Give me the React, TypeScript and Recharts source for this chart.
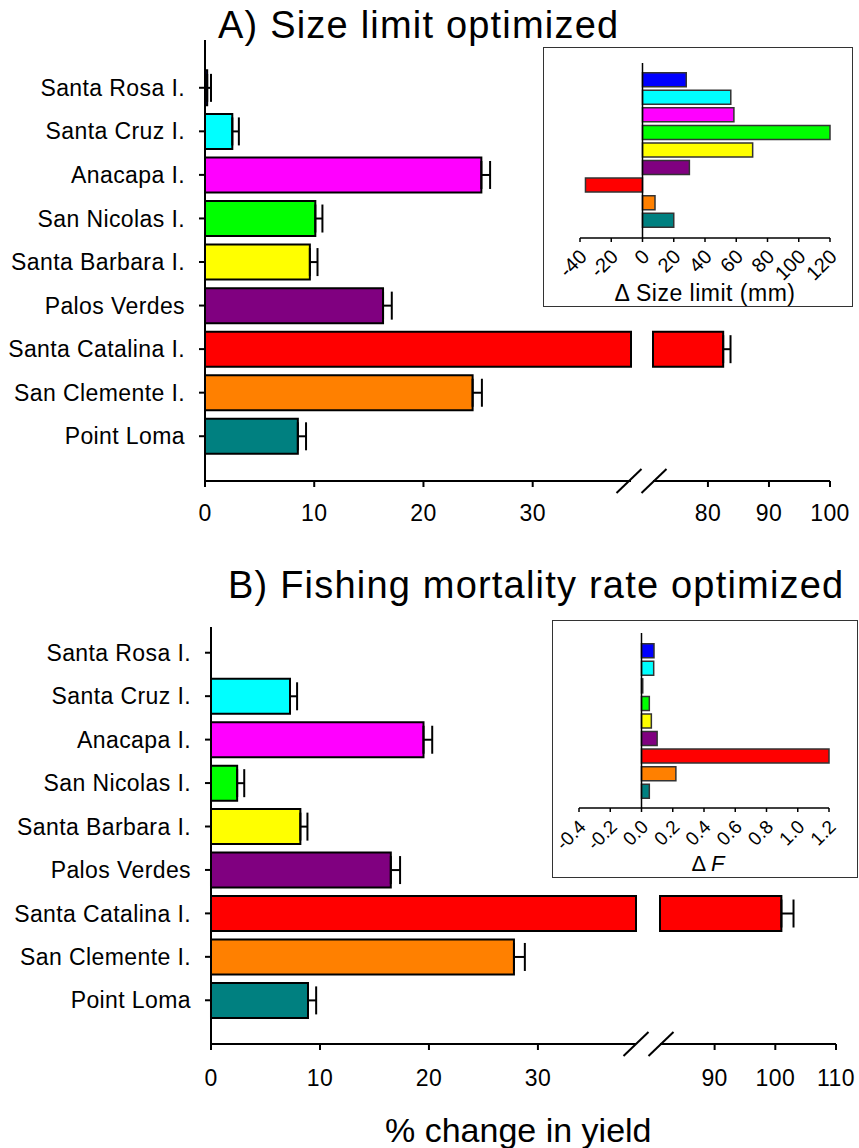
import React from "react";
import { BarChart, Bar, XAxis, YAxis, ErrorBar, ReferenceLine, Cell } from "recharts";

// sites, top to bottom
const sites = [
  "Santa Rosa I.",
  "Santa Cruz I.",
  "Anacapa I.",
  "San Nicolas I.",
  "Santa Barbara I.",
  "Palos Verdes",
  "Santa Catalina I.",
  "San Clemente I.",
  "Point Loma",
];
const siteColors = ["#0000FF", "#00FFFF", "#FF00FF", "#00FF00", "#FFFF00", "#800080", "#FF0000", "#FF8000", "#008080"];

// A) % change in yield when size limit is optimized (+ SE)
const yieldSize = [0.2, 2.5, 25.3, 10.1, 9.6, 16.3, 82.5, 24.5, 8.5];
const yieldSizeErr = [0.35, 0.6, 0.8, 0.65, 0.7, 0.8, 1.2, 0.85, 0.75];
// B) % change in yield when fishing mortality is optimized (+ SE)
const yieldF = [0, 7.25, 19.5, 2.4, 8.2, 16.5, 101, 27.8, 8.9];
const yieldFErr = [0.6, 0.65, 0.8, 0.65, 0.65, 0.85, 2.0, 1.0, 0.75];

// insets
const deltaSize = [28, 56.5, 58.5, 120, 70.5, 30, -36.5, 8, 20];
const deltaF = [0.08, 0.078, 0.008, 0.05, 0.063, 0.1, 1.2, 0.22, 0.05];

const ticksLeft = [0, 10, 20, 30];
const ticksRightA = [80, 90, 100];
const ticksRightB = [90, 100, 110];
const ticksDeltaSize = [-40, -20, 0, 20, 40, 60, 80, 100, 120];
const ticksDeltaF = [-0.4, -0.2, 0, 0.2, 0.4, 0.6, 0.8, 1.0, 1.2];

// broken x axis: left segment [0, LEFT_MAX], right segment [rightMin, rightMax]
const LEFT_MAX = 39;
const RIGHT_A: [number, number] = [71, 100];
const RIGHT_B: [number, number] = [81, 110];

const FONT = "'Liberation Sans', Arial, Helvetica, sans-serif";

function buildRows(values: number[], errs: number[], rightMin: number) {
  return sites.map((site, i) => {
    const v = values[i];
    const broken = v > LEFT_MAX;
    return {
      site,
      color: siteColors[i],
      left: broken ? LEFT_MAX : v,
      leftErr: broken ? null : [0, errs[i]],
      right: broken ? [rightMin, v] : null,
      rightErr: broken ? [0, errs[i]] : null,
    };
  });
}

const rowsA = buildRows(yieldSize, yieldSizeErr, RIGHT_A[0]);
const rowsB = buildRows(yieldF, yieldFErr, RIGHT_B[0]);
const insetRowsA = sites.map((site, i) => ({ site, color: siteColors[i], delta: deltaSize[i] }));
const insetRowsB = sites.map((site, i) => ({ site, color: siteColors[i], delta: deltaF[i] }));

const axisStroke = { stroke: "#000", strokeWidth: 2 };
const tickText = { fill: "#000", fontSize: 23, letterSpacing: 0.4 };

interface PanelProps {
  rows: any[];
  top: number; // div top
  plotTop: number; // relative
  axisY: number; // relative
  axisX: number; // y axis position
  leftEnd: number;
  rightStart: number;
  rightEnd: number;
  rightDomain: [number, number];
  rightTicks: number[];
  pad: { top: number; bottom: number };
  tickMargin: number;
}

function BrokenPanel(p: PanelProps) {
  const h = p.axisY + 50;
  const rightDiv = 600;
  return (
    <>
      <div style={{ position: "absolute", left: 0, top: p.top }}>
        <BarChart
          width={p.leftEnd + 10}
          height={h}
          layout="vertical"
          data={p.rows}
          margin={{ top: p.plotTop, right: 10, bottom: 0, left: 0 }}
        >
          <XAxis
            type="number"
            domain={[0, LEFT_MAX]}
            ticks={ticksLeft}
            interval={0}
            height={50}
            tickSize={6}
            tickMargin={p.tickMargin}
            axisLine={axisStroke}
            tickLine={axisStroke}
            tick={tickText}
          />
          <YAxis
            type="category"
            dataKey="site"
            width={p.axisX}
            padding={p.pad}
            interval={0}
            tickSize={6}
            tickMargin={14}
            axisLine={axisStroke}
            tickLine={axisStroke}
            tick={tickText}
          />
          <Bar dataKey="left" stroke="#000" strokeWidth={2} isAnimationActive={false}>
            {p.rows.map((r) => (
              <Cell key={r.site} fill={r.color} />
            ))}
            <ErrorBar dataKey="leftErr" direction="x" width={14} stroke="#000" strokeWidth={2} />
          </Bar>
        </BarChart>
      </div>
      <div style={{ position: "absolute", left: rightDiv, top: p.top }}>
        <BarChart
          width={859 - rightDiv}
          height={h}
          layout="vertical"
          data={p.rows}
          margin={{ top: p.plotTop, right: 859 - p.rightEnd, bottom: 0, left: p.rightStart - rightDiv }}
        >
          <XAxis
            type="number"
            domain={p.rightDomain}
            ticks={p.rightTicks}
            interval={0}
            height={50}
            tickSize={6}
            tickMargin={p.tickMargin}
            axisLine={axisStroke}
            tickLine={axisStroke}
            tick={tickText}
          />
          <YAxis type="category" dataKey="site" hide padding={p.pad} />
          <Bar dataKey="right" stroke="#000" strokeWidth={2} isAnimationActive={false}>
            {p.rows.map((r) => (
              <Cell key={r.site} fill={r.color} />
            ))}
            <ErrorBar dataKey="rightErr" direction="x" width={14} stroke="#000" strokeWidth={2} />
          </Bar>
        </BarChart>
      </div>
    </>
  );
}

function SlantTick(props: any) {
  const { x, y, payload, decimals, fontSize } = props;
  const label = decimals ? Number(payload.value).toFixed(1) : String(payload.value);
  const ax = x + 8;
  const ay = y + 14;
  return (
    <text
      x={ax}
      y={ay}
      transform={`rotate(-45 ${ax} ${ay})`}
      textAnchor="end"
      fontSize={fontSize}
      fill="#000"
    >
      {label}
    </text>
  );
}

interface InsetProps {
  rows: any[];
  left: number;
  top: number;
  width: number;
  height: number;
  margin: { top: number; right: number; left: number };
  axisHeight: number;
  domain: [number, number];
  ticks: number[];
  decimals: boolean;
  tickFont: number;
  pad: { top: number; bottom: number };
}

function Inset(p: InsetProps) {
  return (
    <div
      style={{
        position: "absolute",
        left: p.left,
        top: p.top,
        width: p.width,
        height: p.height,
        background: "#fff",
        outline: "1.5px solid #333",
        outlineOffset: -1.5,
      }}
    >
      <BarChart
        width={p.width}
        height={p.height}
        layout="vertical"
        data={p.rows}
        margin={{ ...p.margin, bottom: 0 }}
        style={{ overflow: "visible" }}
      >
        <XAxis
          type="number"
          domain={p.domain}
          ticks={p.ticks}
          interval={0}
          height={p.axisHeight}
          tickSize={4}
          tickMargin={2}
          axisLine={{ stroke: "#000", strokeWidth: 1.5 }}
          tickLine={{ stroke: "#000", strokeWidth: 1.5 }}
          tick={<SlantTick decimals={p.decimals} fontSize={p.tickFont} />}
        />
        <YAxis type="category" dataKey="site" hide padding={p.pad} />
        <Bar dataKey="delta" stroke="#333" strokeWidth={1.5} isAnimationActive={false}>
          {p.rows.map((r) => (
            <Cell key={r.site} fill={r.color} />
          ))}
        </Bar>
        <ReferenceLine x={0} stroke="#000" strokeWidth={1.5} />
      </BarChart>
    </div>
  );
}

function Slash({ cx, cy }: { cx: number; cy: number }) {
  return <line x1={cx - 12.5} y1={cy + 12} x2={cx + 12.5} y2={cy - 12} stroke="#000" strokeWidth={2} />;
}

export default function App() {
  const A = { top: 0, plotTop: 40, axisY: 481, axisX: 205, leftEnd: 631, rightStart: 653, rightEnd: 830 };
  const B = { top: 560, plotTop: 67, axisY: 484, axisX: 211, leftEnd: 636, rightStart: 660, rightEnd: 836 };
  return (
    <div style={{ position: "relative", width: 859, height: 1148, background: "#fff", fontFamily: FONT, overflow: "hidden" }}>
      <style>{"body{margin:0}"}</style>

      <BrokenPanel
        rows={rowsA}
        {...A}
        rightDomain={RIGHT_A}
        rightTicks={ticksRightA}
        pad={{ top: 26, bottom: 23 }}
        tickMargin={18}
      />
      <BrokenPanel
        rows={rowsB}
        {...B}
        rightDomain={RIGHT_B}
        rightTicks={ticksRightB}
        pad={{ top: 4, bottom: 22 }}
        tickMargin={20}
      />

      <Inset
        rows={insetRowsA}
        left={543}
        top={47}
        width={310}
        height={260}
        margin={{ top: 16, right: 23, left: 37 }}
        axisHeight={69}
        domain={[-40, 120]}
        ticks={ticksDeltaSize}
        decimals={false}
        tickFont={20}
        pad={{ top: 8, bottom: 9 }}
      />
      <Inset
        rows={insetRowsB}
        left={552}
        top={620}
        width={306}
        height={258}
        margin={{ top: 13, right: 29, left: 27 }}
        axisHeight={70}
        domain={[-0.4, 1.2]}
        ticks={ticksDeltaF}
        decimals={true}
        tickFont={19}
        pad={{ top: 9, bottom: 8 }}
      />

      <svg width={859} height={1148} style={{ position: "absolute", left: 0, top: 0, pointerEvents: "none" }}>
        <text x={218} y={38} fontSize={38} letterSpacing={1.2} fill="#000">
          A) Size limit optimized
        </text>
        <text x={228} y={598} fontSize={38} letterSpacing={1.2} fill="#000">
          B) Fishing mortality rate optimized
        </text>
        <text x={385} y={1142} fontSize={34} fill="#000">
          % change in yield
        </text>
        <text x={705} y={301} fontSize={23} letterSpacing={0.5} textAnchor="middle" fill="#000">
          Δ Size limit (mm)
        </text>
        <text x={708} y={871} fontSize={22} textAnchor="middle" fill="#000">
          Δ <tspan fontStyle="italic">F</tspan>
        </text>
        <Slash cx={A.leftEnd - 2} cy={A.top + A.axisY} />
        <Slash cx={A.rightStart + 1} cy={A.top + A.axisY} />
        <Slash cx={B.leftEnd} cy={B.top + B.axisY} />
        <Slash cx={B.rightStart + 1} cy={B.top + B.axisY} />
      </svg>
    </div>
  );
}
